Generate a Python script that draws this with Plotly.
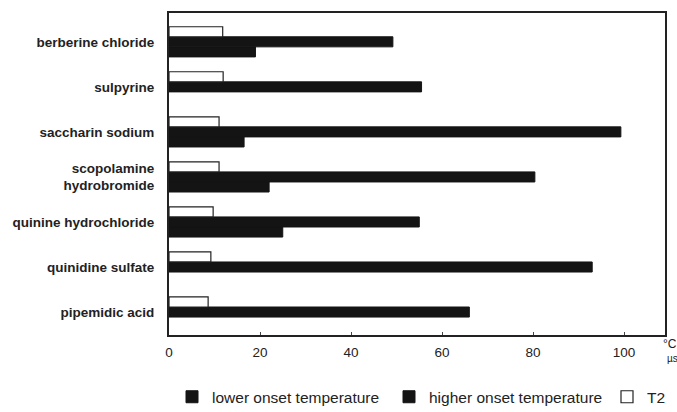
import plotly.graph_objects as go

categories = ["pipemidic acid", "quinidine sulfate", "quinine hydrochloride",
              "scopolamine<br>hydrobromide", "saccharin sodium", "sulpyrine",
              "berberine chloride"]
lower_onset = [None, None, 25, 22, 16.5, None, 19]
higher_onset = [66, 93, 55, 80.4, 99.3, 55.5, 49.2]
t2 = [8.6, 9.2, 9.7, 11, 11, 11.9, 11.8]
x_ticks = [0, 20, 40, 60, 80, 100]

fig = go.Figure()
fig.add_trace(go.Bar(y=categories, x=lower_onset, orientation="h",
                     name="lower onset temperature", legend="legend",
                     marker=dict(color="#141414", line=dict(color="#141414", width=1))))
fig.add_trace(go.Bar(y=categories, x=higher_onset, orientation="h",
                     name="higher onset temperature", legend="legend2",
                     marker=dict(color="#141414", line=dict(color="#141414", width=1))))
fig.add_trace(go.Bar(y=categories, x=t2, orientation="h", name="T2", legend="legend3",
                     marker=dict(color="white", line=dict(color="#222222", width=1.2))))

def leg(xpix):
    return dict(orientation="h", x=(xpix - 169) / 496, xanchor="left", xref="paper",
                y=0.036, yanchor="middle", yref="container",
                font=dict(size=15.5), itemwidth=30, bgcolor="rgba(0,0,0,0)")

fig.update_layout(
    width=677, height=412,
    margin=dict(l=169, r=12, t=13, b=77, autoexpand=False),
    paper_bgcolor="white", plot_bgcolor="white",
    barmode="group", bargap=0.33, bargroupgap=0,
    font=dict(family="Liberation Sans, Arial, sans-serif", color="#222222", size=11),
    showlegend=True,
    legend=leg(172), legend2=leg(389), legend3=leg(607),
    xaxis=dict(range=[0, 109], tickvals=x_ticks, ticks="inside", ticklen=3,
               showgrid=False, zeroline=False, showline=True, linecolor="#222222",
               linewidth=2, mirror=True, ticklabelstandoff=4,
               tickfont=dict(size=13.5, color="#222222")),
    yaxis=dict(range=[-0.51, 6.64], showgrid=False, zeroline=False, showline=True,
               linecolor="#222222", linewidth=2, mirror=True, ticks="",
               ticklabelstandoff=10,
               tickfont=dict(size=13.5, color="#222222", weight="bold")),
)
fig.add_annotation(text="°C", xref="paper", yref="paper", x=1.0, y=0.0,
                   xanchor="left", yanchor="top", showarrow=False, xshift=-4,
                   font=dict(size=12))
fig.add_annotation(text="µs", xref="paper", yref="paper", x=1.0, y=-0.05,
                   xanchor="left", yanchor="top", showarrow=False, xshift=0,
                   font=dict(size=10))
fig.write_html("out.html")
